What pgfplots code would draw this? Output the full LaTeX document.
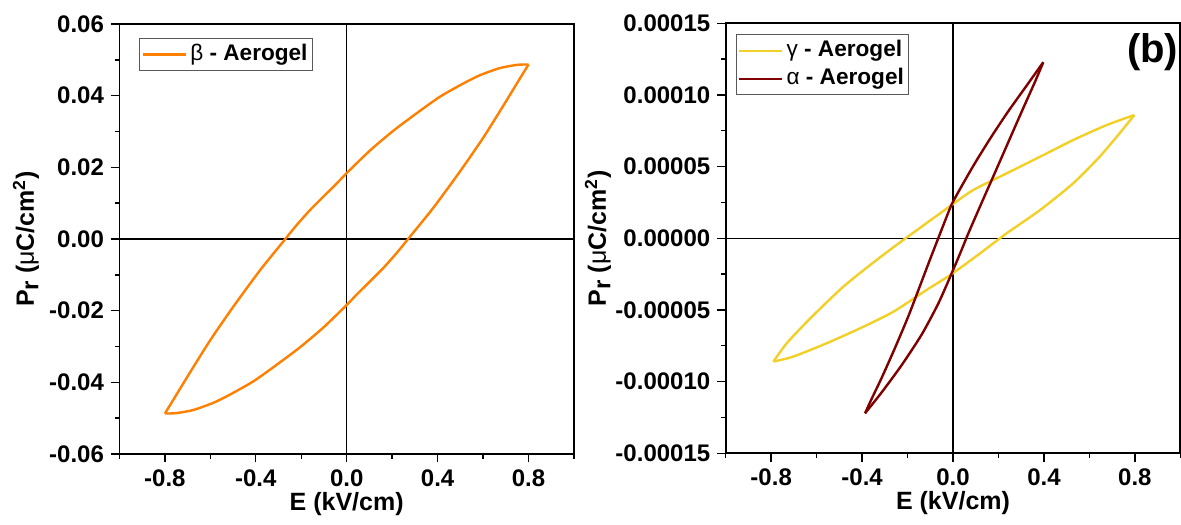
\documentclass[border=0pt]{standalone}
\usepackage{fontspec}
\setmainfont{Liberation Sans}
\usepackage{pgfplots}
\pgfplotsset{compat=1.18}
\definecolor{betaorange}{RGB}{255,127,0}
\definecolor{gammayellow}{RGB}{242,208,40}
\definecolor{alphared}{RGB}{128,0,0}

\pgfplotsset{
  hyst/.style={
    scale only axis, width=227.3pt, height=215pt,
    axis line style={line width=0.9pt},
    tick align=outside, xtick pos=bottom, ytick pos=left,
    major tick length=4.2pt, minor tick length=2.3pt,
    every tick/.style={black, line width=0.7pt},
    xmin=-1, xmax=1,
    xtick={-0.8,-0.4,0,0.4,0.8},
    minor xtick={-1,-0.6,-0.2,0.2,0.6,1},
    scaled x ticks=false, scaled y ticks=false,
    tick label style={font=\fontsize{12}{14}\selectfont\bfseries},
    xticklabel={\pgfmathprintnumber[assume math mode=true,fixed,fixed zerofill,precision=1]{\tick}},
    xlabel={E (kV/cm)},
    ylabel={P\raisebox{-0.35ex}{\fontsize{12}{12}\selectfont r} ({\mdseries μ}C/cm\textsuperscript{2})},
    every axis x label/.style={at={(axis description cs:0.5,-0.1163)}, anchor=center,
      font=\fontsize{12.5}{14}\selectfont\bfseries},
    legend cell align=left,
    legend style={draw=gray!70!black, line width=0.5pt, font=\fontsize{11.3}{13}\selectfont\bfseries,
      inner sep=1pt, nodes={inner sep=1.5pt, text height=8.5pt, text depth=2.5pt}},
    legend image code/.code={\draw[#1] (0pt,0pt) -- (21.5pt,0pt);},
    br/.style={line width=1.2pt, smooth, tension=0.4},
  }
}

\begin{document}
\begin{tikzpicture}
\useasboundingbox (0,0) rectangle (590.5pt,262pt);

% ---------------- left panel ----------------
\begin{axis}[hyst,
  at={(59.7pt,35pt)}, anchor=south west,
  ymin=-0.06, ymax=0.06,
  ytick={-0.06,-0.04,-0.02,0,0.02,0.04,0.06},
  minor ytick={-0.05,-0.03,-0.01,0.01,0.03,0.05},
  yticklabel={\pgfmathprintnumber[assume math mode=true,fixed,fixed zerofill,precision=2]{\tick}},
  every axis y label/.style={at={(axis description cs:-0.2055,0.5)}, rotate=90, anchor=center,
    font=\fontsize{12.5}{14}\selectfont\bfseries},
  legend style={at={(0.044,0.967)}, anchor=north west},
]
\addplot[black, line width=0.6pt, forget plot] coordinates {(0,-0.06) (0,0.06)};
\addplot[black, line width=0.6pt, forget plot] coordinates {(-1,0) (1,0)};
\addplot[betaorange, br] coordinates {
(0.800,0.0487) (0.750,0.0486) (0.674,0.0477) (0.586,0.0457) (0.513,0.0434)
(0.410,0.0397) (0.308,0.0351) (0.205,0.0302) (0.1025,0.0247) (0.000,0.0184)
(-0.044,0.0155) (-0.103,0.0118) (-0.161,0.0081) (-0.220,0.0039) (-0.270,0.0000)
(-0.381,-0.0087) (-0.499,-0.0189) (-0.601,-0.0283) (-0.689,-0.0372) (-0.763,-0.0449)
(-0.800,-0.0487)
};
\addlegendentry{{\mdseries β} - Aerogel}
\addplot[betaorange, br, forget plot] coordinates {
(-0.800,-0.0487)
(-0.750,-0.0486) (-0.674,-0.0477) (-0.586,-0.0457) (-0.513,-0.0434)
(-0.410,-0.0397) (-0.308,-0.0351) (-0.205,-0.0302) (-0.1025,-0.0247) (0.000,-0.0184)
(0.044,-0.0155) (0.103,-0.0118) (0.161,-0.0081) (0.220,-0.0039) (0.270,0.0000)
(0.381,0.0087) (0.499,0.0189) (0.601,0.0283) (0.689,0.0372) (0.763,0.0449)
(0.800,0.0487)
};
\end{axis}

% ---------------- right panel ----------------
\begin{axis}[hyst,
  at={(362.85pt,35.35pt)}, anchor=south west,
  ymin=-0.00015, ymax=0.00015,
  ytick={-0.00015,-0.0001,-0.00005,0,0.00005,0.0001,0.00015},
  minor ytick={-0.000125,-0.000075,-0.000025,0.000025,0.000075,0.000125},
  yticklabel={\pgfmathprintnumber[assume math mode=true,fixed,fixed zerofill,precision=5]{\tick}},
  every axis y label/.style={at={(axis description cs:-0.281,0.5)}, rotate=90, anchor=center,
    font=\fontsize{12.5}{14}\selectfont\bfseries},
  legend style={at={(0.022,0.974)}, anchor=north west},
]
\addplot[black, line width=0.6pt, forget plot] coordinates {(0,-0.00015) (0,0.00015)};
\addplot[black, line width=0.6pt, forget plot] coordinates {(-1,0) (1,0)};
\addplot[gammayellow, br] coordinates {
(0.798,8.6e-5) (0.676,7.9e-5) (0.529,6.86e-5) (0.383,5.69e-5) (0.236,4.53e-5)
(0.089,3.37e-5) (0.001,2.40e-5) (-0.057,1.74e-5) (-0.219,-0.12e-5) (-0.336,-1.51e-5)
(-0.483,-3.38e-5) (-0.629,-5.6e-5) (-0.732,-7.33e-5) (-0.790,-8.6e-5)
};
\addlegendentry{{\mdseries γ} - Aerogel}
\addplot[gammayellow, br, forget plot] coordinates {
(-0.790,-8.6e-5)
(-0.704,-8.26e-5) (-0.557,-7.33e-5) (-0.409,-6.28e-5) (-0.262,-5.12e-5)
(-0.116,-3.6e-5) (-0.006,-2.50e-5) (0.119,-1.05e-5) (0.236,0.35e-5)
(0.383,1.97e-5) (0.529,3.84e-5) (0.645,5.69e-5) (0.733,7.33e-5) (0.798,8.6e-5)
};
\addplot[alphared, br] coordinates {
(0.397,12.28e-5) (0.317,10.50e-5) (0.243,8.86e-5) (0.170,7.12e-5) (0.097,5.26e-5)
(0.038,3.64e-5) (-0.006,2.36e-5) (-0.035,1.22e-5) (-0.065,0) (-0.109,-1.80e-5)
(-0.153,-3.64e-5) (-0.197,-5.46e-5) (-0.255,-7.64e-5) (-0.314,-9.74e-5)
(-0.358,-11.20e-5) (-0.387,-12.21e-5)
};
\addlegendentry{{\mdseries α} - Aerogel}
\addplot[alphared, br, forget plot] coordinates {
(-0.387,-12.21e-5)
(-0.314,-10.75e-5) (-0.226,-8.85e-5) (-0.138,-6.72e-5) (-0.065,-4.56e-5)
(-0.006,-2.45e-5) (0.038,-0.80e-5) (0.067,0.33e-5) (0.126,2.48e-5) (0.185,4.60e-5)
(0.243,6.70e-5) (0.302,8.83e-5) (0.361,10.93e-5) (0.397,12.28e-5)
};
\node[font=\fontsize{20}{24}\selectfont\bfseries] at (axis description cs:0.939,0.933) {(b)};
\end{axis}
\end{tikzpicture}
\end{document}
